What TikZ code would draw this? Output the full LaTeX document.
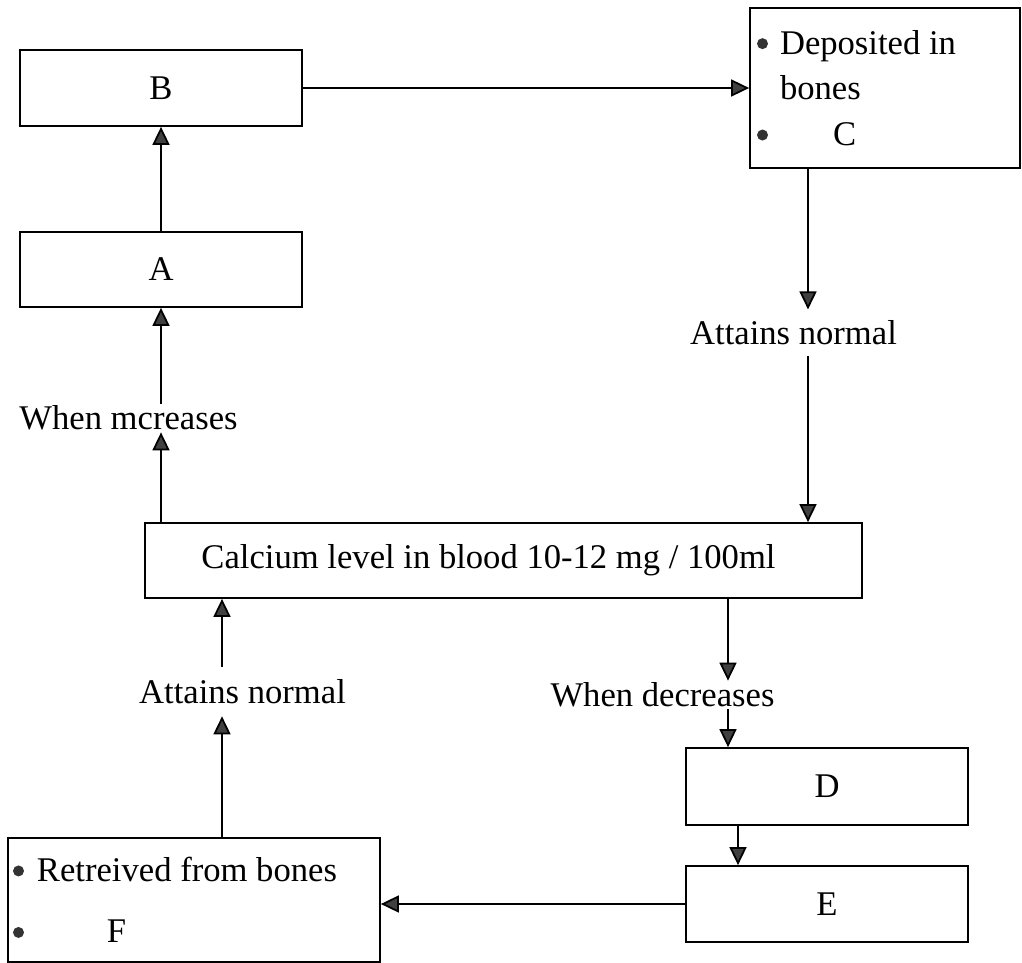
\documentclass[tikz,border=0pt]{standalone}
\usepackage{fontspec}
\setmainfont{Liberation Serif}
\usetikzlibrary{arrows.meta, positioning}
\tikzset{
    box/.style={draw, line width=1pt, inner sep=0pt, minimum width=5.64cm, minimum height=1.52cm, align=center},
    lbl/.style={inner xsep=0pt, inner ysep=1pt},
    flow/.style={line width=1pt, -{Triangle[width=0.34cm, length=0.36cm, fill=black!75]}}
}
\newcommand{\blt}{\tikz[baseline=0pt]\fill[black!80] (0.11,0.21) circle (0.11);}

\begin{document}
\begin{tikzpicture}[font=\fontsize{19.7}{26}\selectfont]
    \useasboundingbox (0,0) rectangle (20.44,-19.26);
    % boxes
    \node[box] (B) at (3.22,-1.76) {B};
    \node[box, minimum height=1.5cm] (A) at (3.22,-5.39) {A};
    \node[box, minimum width=5.4cm, minimum height=3.2cm, inner xsep=0.14cm, text width=5.12cm, align=flush left] (C) at (17.7,-1.76)
        {\blt\hspace{0.24cm}Deposited in\\\hspace*{0.46cm}bones\\\blt\hspace{1.3cm}C};
    \node[box, minimum width=14.34cm, minimum height=1.5cm] (calc) at (10.07,-11.21) {Calcium level in blood 10-12 mg / 100ml\hspace*{0.6cm}};
    \node[box, minimum height=1.54cm] (D) at (16.54,-15.73) {D};
    \node[box] (E) at (16.54,-18.08) {E};
    \node[box, minimum width=7.44cm, minimum height=2.48cm, inner xsep=0.1cm, text width=7.24cm, align=flush left] (F) at (3.88,-18.0)
        {\blt\hspace{0.26cm}Retreived from bones\\[9pt]\blt\hspace{1.66cm}F};
    % labels on the arrows
    \node[lbl] (inc) at (2.57,-8.36) {When mcreases};
    \node[lbl, inner ysep=6pt] (normR) at (15.87,-6.65) {Attains normal};
    \node[lbl, inner ysep=7pt] (normL) at (4.85,-13.83) {Attains normal};
    \node[lbl] (dec) at (13.25,-13.9) {When decreases};
    \coordinate (xc) at (16.16,0);
    \coordinate (xd) at (14.56,0);
    \coordinate (xe) at (14.76,0);
    \coordinate (xf) at (4.44,0);
    % arrows
    \draw[flow] (A |- calc.north) -- (A |- inc.south);
    \draw[flow] (A |- inc.north) -- (A.south);
    \draw[flow] (A.north) -- (B.south);
    \draw[flow] (B.east) -- (C.west);
    \draw[flow] (C.south -| xc) -- (normR.north -| xc);
    \draw[flow] (normR.south -| xc) -- (calc.north -| xc);
    \draw[flow] (calc.south -| xd) -- (dec.north -| xd);
    \draw[flow] (dec.south -| xd) -- (D.north -| xd);
    \draw[flow] (D.south -| xe) -- (E.north -| xe);
    \draw[flow] (E.west) -- (E.west -| F.east);
    \draw[flow] (F.north -| xf) -- (normL.south -| xf);
    \draw[flow] (normL.north -| xf) -- (calc.south -| xf);
\end{tikzpicture}
\end{document}
